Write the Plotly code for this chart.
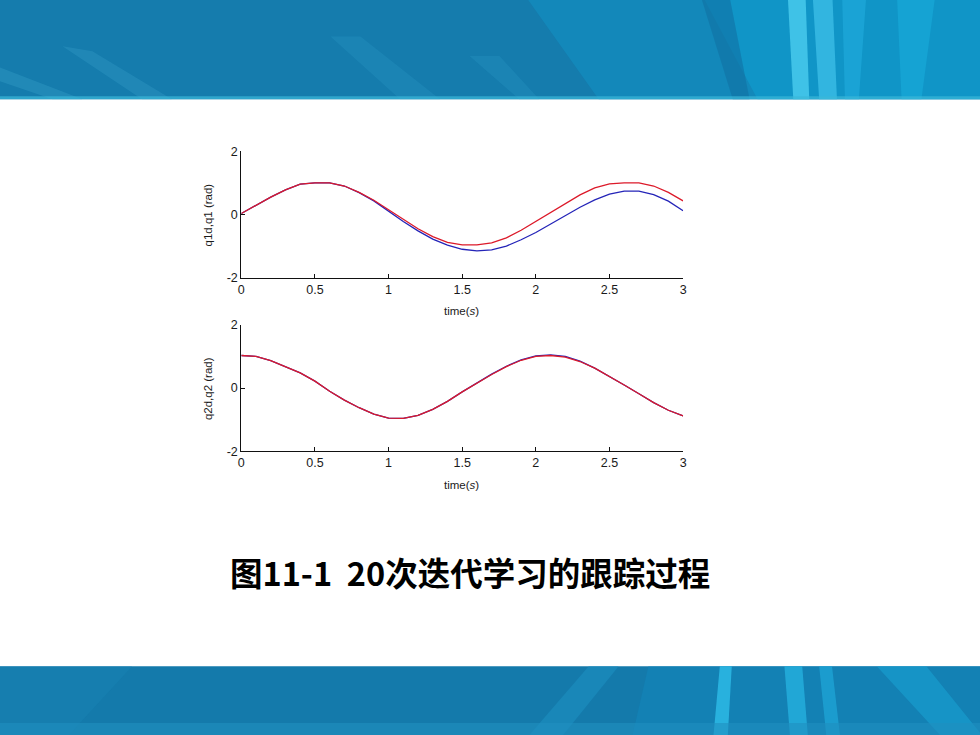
import plotly.graph_objects as go

# ---------------- data ----------------
t = [round(0.1 * i, 1) for i in range(31)]

q1d = [0.03, 0.30, 0.55, 0.78, 0.96, 1.00, 1.00, 0.90, 0.70, 0.45,
       0.15, -0.15, -0.45, -0.70, -0.88, -0.96, -0.96, -0.90, -0.74, -0.50,
       -0.22, 0.07, 0.35, 0.62, 0.84, 0.97, 1.00, 1.00, 0.90, 0.70, 0.43]
q1 = [0.03, 0.30, 0.55, 0.78, 0.96, 1.00, 1.00, 0.90, 0.69, 0.43,
      0.10, -0.22, -0.52, -0.78, -0.97, -1.10, -1.15, -1.12, -1.00, -0.80,
      -0.57, -0.30, -0.03, 0.23, 0.46, 0.64, 0.74, 0.74, 0.63, 0.42, 0.12]

q2d = [1.03, 1.00, 0.87, 0.68, 0.48, 0.22, -0.10, -0.38, -0.62, -0.82,
       -0.95, -0.96, -0.86, -0.67, -0.42, -0.12, 0.16, 0.43, 0.68, 0.88,
       1.00, 1.03, 0.98, 0.84, 0.63, 0.37, 0.10, -0.18, -0.46, -0.70, -0.88]
q2 = [1.03, 1.00, 0.87, 0.68, 0.48, 0.22, -0.10, -0.38, -0.62, -0.82,
      -0.95, -0.96, -0.86, -0.67, -0.42, -0.12, 0.16, 0.44, 0.69, 0.89,
      1.02, 1.05, 1.00, 0.85, 0.63, 0.37, 0.10, -0.18, -0.46, -0.70, -0.88]

x_ticks = [0, 0.5, 1, 1.5, 2, 2.5, 3]
x_tick_labels = ["0", "0.5", "1", "1.5", "2", "2.5", "3"]
y_ticks = [-2, 0, 2]
y_tick_labels = ["-2", "0", "2"]

ylabel_top = "q1d,q1 (rad)"
ylabel_bottom = "q2d,q2 (rad)"
xlabel = "time(<i>s</i>)"
caption = "图11-1  20次迭代学习的跟踪过程"

# ---------------- layout helpers ----------------
W, H = 980, 735


def px(x):
    return x / W


def py(y):
    return 1 - y / H


def poly(points, color, opacity=1.0):
    d = "M " + " L ".join(f"{px(a):.4f},{py(b):.4f}" for a, b in points) + " Z"
    return dict(type="path", xref="paper", yref="paper", path=d,
                fillcolor=color, opacity=opacity, line=dict(width=0), layer="below")


def rect(x0, y0, x1, y1, color, opacity=1.0):
    return dict(type="rect", xref="paper", yref="paper",
                x0=px(x0), x1=px(x1), y0=py(y1), y1=py(y0),
                fillcolor=color, opacity=opacity, line=dict(width=0), layer="below")


shapes = []
# top banner (slightly over-sized so it reaches the page edges)
shapes.append(rect(-20, -20, 1000, 94, "#157cad"))
shapes.append(poly([(520, -20), (1000, -20), (1000, 94), (600, 94)], "#1291c4", 0.55))
shapes.append(poly([(700, -20), (1000, -20), (1000, 94), (760, 94)], "#0ea6d6", 0.45))
shapes.append(poly([(-20, 55), (-20, 70), (50, 94), (80, 94)], "#3aa2cc", 0.35))
shapes.append(poly([(60, 40), (90, 45), (170, 94), (140, 94)], "#3aa2cc", 0.3))
shapes.append(poly([(330, 30), (360, 30), (440, 94), (400, 94)], "#2a98c8", 0.3))
shapes.append(poly([(470, 50), (500, 50), (540, 94), (520, 94)], "#2a98c8", 0.3))
shapes.append(poly([(700, -20), (730, -20), (752, 94), (735, 94)], "#1172a4", 0.6))
shapes.append(poly([(790, -20), (808, -20), (812, 94), (796, 94)], "#45c6ea", 0.9))
shapes.append(poly([(815, -20), (835, -20), (840, 94), (822, 94)], "#3bbde6", 0.8))
shapes.append(poly([(845, -20), (870, -20), (862, 94), (848, 94)], "#22aedd", 0.6))
shapes.append(poly([(900, -20), (940, -20), (925, 94), (905, 94)], "#1ab2e0", 0.5))
shapes.append(rect(-20, 91, 1000, 94, "#3bb8d8", 0.7))
# bottom banner
shapes.append(rect(-20, 672, 1000, 760, "#147aab"))
shapes.append(poly([(-20, 672), (130, 672), (50, 760), (-20, 760)], "#1a84b6", 0.4))
shapes.append(poly([(590, 672), (620, 672), (550, 760), (515, 760)], "#1d8fc2", 0.6))
shapes.append(poly([(650, 672), (1000, 672), (1000, 760), (630, 760)], "#1288bd", 0.5))
shapes.append(poly([(722, 672), (734, 672), (729, 760), (714, 760)], "#2bb6e2", 0.9))
shapes.append(poly([(787, 672), (805, 672), (812, 760), (794, 760)], "#25b0de", 0.8))
shapes.append(poly([(822, 672), (835, 672), (845, 760), (831, 760)], "#20a8d8", 0.7))
shapes.append(poly([(880, 672), (930, 672), (1000, 760), (960, 760)], "#1aa8d8", 0.5))
shapes.append(rect(-20, 730, 1000, 760, "#1f8fbf", 0.6))

fig = go.Figure()

blue = "#2424b8"
red = "#dc1a2a"

fig.add_trace(go.Scatter(x=t, y=q1, mode="lines", line=dict(color=blue, width=1.3),
                         xaxis="x", yaxis="y", showlegend=False))
fig.add_trace(go.Scatter(x=t, y=q1d, mode="lines", line=dict(color=red, width=1.3),
                         xaxis="x", yaxis="y", showlegend=False))
fig.add_trace(go.Scatter(x=t, y=q2, mode="lines", line=dict(color=blue, width=1.3),
                         xaxis="x2", yaxis="y2", showlegend=False))
fig.add_trace(go.Scatter(x=t, y=q2d, mode="lines", line=dict(color=red, width=1.3),
                         xaxis="x2", yaxis="y2", showlegend=False))

tickfont = dict(family="Liberation Sans, Arial, sans-serif", size=12.5, color="#1a1a1a")
common_x = dict(range=[0, 3], tickvals=x_ticks, ticktext=x_tick_labels,
                showline=True, linecolor="#111", linewidth=1, mirror=False,
                ticks="inside", ticklen=4, tickcolor="#111", showgrid=False,
                zeroline=False, tickfont=tickfont, domain=[px(240), px(685)])
common_y = dict(range=[-2, 2], tickvals=y_ticks, ticktext=y_tick_labels,
                showline=True, linecolor="#111", linewidth=1, mirror=False,
                ticks="inside", ticklen=4, tickcolor="#111", showgrid=False,
                zeroline=False, tickfont=tickfont)

fig.update_layout(
    width=W, height=H,
    margin=dict(l=0, r=0, t=0, b=0),
    paper_bgcolor="white", plot_bgcolor="white",
    xaxis=dict(**common_x, anchor="y"),
    yaxis=dict(**common_y, anchor="x", domain=[py(276), py(147)]),
    xaxis2=dict(**common_x, anchor="y2"),
    yaxis2=dict(**common_y, anchor="x2", domain=[py(453), py(324)]),
    shapes=shapes,
)

lblfont = dict(family="Liberation Sans, Arial, sans-serif", size=11.5, color="#1a1a1a")
ann = [
    dict(x=px(206), y=py(212), text=ylabel_top, textangle=-90),
    dict(x=px(206), y=py(389), text=ylabel_bottom, textangle=-90),
    dict(x=px(462), y=py(310), text=xlabel),
    dict(x=px(462), y=py(487), text=xlabel),
]
for a in ann:
    fig.add_annotation(xref="paper", yref="paper", showarrow=False,
                       xanchor="center", yanchor="middle", font=lblfont, **a)

fig.add_annotation(xref="paper", yref="paper", x=px(470), y=py(575),
                   text="<b>" + caption + "</b>",
                   showarrow=False, xanchor="center", yanchor="middle",
                   font=dict(family="Noto Sans CJK SC", size=32.5, color="black"))

fig.write_html(
    "out.html",
    config={"displayModeBar": False},
    post_script=(
        "document.body.style.margin='0';document.body.style.padding='0';"
        "document.body.style.overflow='hidden';"
        "document.documentElement.style.overflow='hidden';"
        "var g=document.getElementById('{plot_id}');"
        "g.style.position='fixed';g.style.left='0px';g.style.top='0px';"
    ),
)
